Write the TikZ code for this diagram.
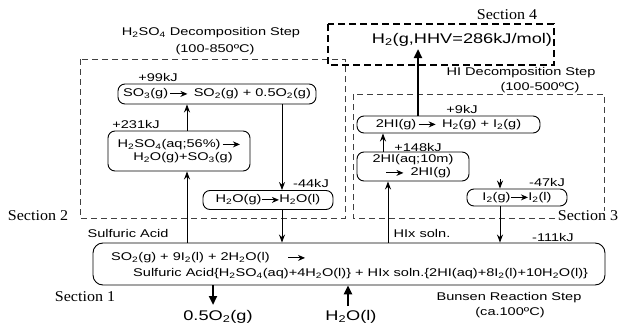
\documentclass[tikz,border=0pt]{standalone}
\usepackage{fontspec}
\setmainfont{Liberation Sans}[FakeStretch=1.3]
\newfontfamily\secfont{Liberation Serif}[FakeStretch=1.07]
\usetikzlibrary{arrows.meta}
\newcommand\rarr{\tikz[baseline={(0pt,-3pt)}]\draw[line width=0.9pt,-{Stealth[length=7pt,width=6pt]}](0pt,0pt)--(17pt,0pt);}
\newcommand\sbs[1]{\textsubscript{#1}}
\begin{document}
\begin{tikzpicture}[x=1pt,y=-1pt, font=\fontsize{11.2}{13}\selectfont,
  rbox/.style={draw, rounded corners=7pt, line width=0.9pt, inner sep=0pt},
  lbl/.style={inner sep=0pt},
  sec/.style={inner sep=0pt, font=\secfont\fontsize{15}{17}\selectfont},
  big/.style={inner sep=0pt, font=\fontsize{14}{16}\selectfont},
  zone/.style={draw=black!75, dash pattern=on 6pt off 4pt, line width=0.8pt},
  zonefour/.style={draw=black, dash pattern=on 7pt off 4pt, line width=1.7pt},
  arr/.style={line width=0.9pt, -{Stealth[length=8pt,width=6pt]}},
  thickarr/.style={line width=2.6pt, -{Triangle[length=9pt,width=8pt]}}]
\useasboundingbox (0,0) rectangle (619,324);
% zones
\draw[zone] (80,59) rectangle (345,218);
\draw[zone] (555,218) -- (353,218) -- (353,94) -- (604,94) -- (604,211);
\draw[zonefour] (328,24) rectangle (554,65);
% section labels
\node[sec] (s4) at (507,15) {Section 4};
\node[sec] (s2) at (38,216) {Section 2};
\node[sec] (s3) at (588,216) {Section 3};
\node[sec] (s1) at (85,297) {Section 1};
% step labels
\node[lbl] (t2a) at (211,33) {H\sbs2SO\sbs4 Decomposition Step};
\node[lbl] (t2b) at (215,50) {(100-850ºC)};
\node[lbl] (t3a) at (521,73) {HI Decomposition Step};
\node[lbl] (t3b) at (540,88) {(100-500ºC)};
\node[lbl] (t1a) at (509,298) {Bunsen Reaction Step};
\node[lbl] (t1b) at (510,313) {(ca.100ºC)};
% H2
\node[big] (h2) at (462,40) {H\sbs2(g,HHV=286kJ/mol)};
% boxes
\node[rbox, minimum width=198pt, minimum height=20pt] (so3) at (217,94)
  {SO\sbs3(g)\,\rarr\, SO\sbs2(g) + 0.5O\sbs2(g)};
\node[rbox, minimum width=142pt, minimum height=40pt, align=left] (h2so4) at (179,151)
  {H\sbs2SO\sbs4(aq;56\%)\,\rarr\\\hspace*{1.4em}H\sbs2O(g)+SO\sbs3(g)};
\node[rbox, minimum width=130pt, minimum height=19pt] (h2o) at (268,200)
  {H\sbs2O(g)\rarr H\sbs2O(l)};
\node[rbox, minimum width=512pt, minimum height=42pt, rounded corners=10pt] (bun) at (349,264) {};
\node[lbl, anchor=west] (bun1) at (111,258)
  {SO\sbs2(g) + 9I\sbs2(l) + 2H\sbs2O(l)\hspace{1.6em}\rarr};
\node[lbl, anchor=west] (bun2) at (133,274)
  {Sulfuric Acid\{H\sbs2SO\sbs4(aq)+4H\sbs2O(l)\} + HIx soln.\{2HI(aq)+8I\sbs2(l)+10H\sbs2O(l)\}};
\node[rbox, minimum width=183pt, minimum height=17pt] (hig) at (448.5,124.5)
  {2HI(g)\,\rarr\, H\sbs2(g) + I\sbs2(g)};
\node[rbox, minimum width=112pt, minimum height=29pt, align=left] (hiaq) at (413,166.5)
  {2HI(aq;10m)\\\hspace*{1.2em}\rarr\hspace{0.6em}2HI(g)};
\node[rbox, minimum width=100pt, minimum height=17pt] (i2) at (517,197.5)
  {I\sbs2(g)\rarr I\sbs2(l)};
% energy labels
\node[lbl] (e99) at (158,77) {+99kJ};
\node[lbl] (e231) at (136,124) {+231kJ};
\node[lbl] (e44) at (311,183) {-44kJ};
\node[lbl] (e9) at (462,109) {+9kJ};
\node[lbl] (e148) at (418,147) {+148kJ};
\node[lbl] (e47) at (547,182) {-47kJ};
\node[lbl] (e111) at (553,237) {-111kJ};
\node[lbl] (sa) at (128,233) {Sulfuric Acid};
\node[lbl] (hix) at (422,233) {HIx soln.};
\node[big] (o2) at (218,317) {0.5O\sbs2(g)};
\node[big] (wat) at (351,317) {H\sbs2O(l)};
% x positions
\coordinate (xa) at (187,0);
\coordinate (xc) at (282,0);
\coordinate (xd) at (388,0);
\coordinate (xe) at (383,0);
\coordinate (xf) at (418,0);
\coordinate (xg) at (500,0);
\coordinate (xi) at (213,0);
\coordinate (xj) at (348,0);
\coordinate (h2in) at (418,49);
\coordinate (i2in) at (500,179);
\coordinate (o2tip) at (213,305);
\coordinate (wattail) at (348,306);
% arrows
\draw[arr] (bun.north -| xa) -- (h2so4.south -| xa);
\draw[arr] (h2so4.north -| xa) -- (so3.south -| xa);
\draw[arr] (so3.south -| xc) -- (h2o.north -| xc);
\draw[arr] (h2o.south -| xc) -- (bun.north -| xc);
\draw[arr] (bun.north -| xd) -- (hiaq.south -| xd);
\draw[arr] (hiaq.north -| xe) -- (hig.south -| xe);
\draw[thickarr] (hig.north -| xf) -- (h2in);
\draw[arr] (i2in) -- (i2.north -| xg);
\draw[arr] (i2.south -| xg) -- (bun.north -| xg);
\draw[thickarr] (bun.south -| xi) -- (o2tip);
\draw[thickarr] (wattail) -- (bun.south -| xj);
\end{tikzpicture}
\end{document}
